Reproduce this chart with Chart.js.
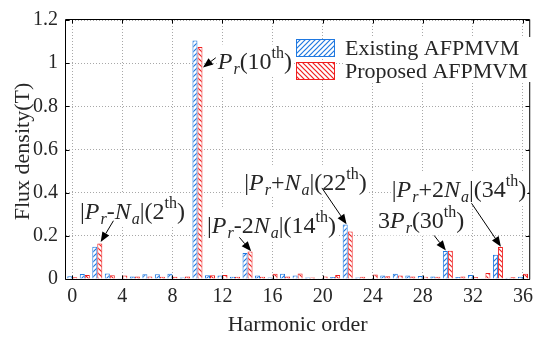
<!DOCTYPE html>
<html><head><meta charset="utf-8">
<script src="https://cdn.jsdelivr.net/npm/chart.js@4.4.0/dist/chart.umd.min.js"></script>
<style>html,body{margin:0;padding:0;background:#fff;}canvas{display:block;}</style>
</head><body>
<canvas id="c" width="539" height="339"></canvas>
<script>
const harmonics = [0,1,2,3,4,5,6,7,8,9,10,11,12,13,14,15,16,17,18,19,20,21,22,23,24,25,26,27,28,29,30,31,32,33,34,35,36];
const existing = [0.013,0.023,0.149,0.026,0.003,0.012,0.022,0.022,0.024,0.007,1.105,0.017,0.016,0.011,0.120,0.016,0.007,0.024,0.016,0.007,0.001,0.009,0.253,0.007,0.004,0.016,0.024,0.016,0.014,0.012,0.130,0.009,0.018,0.003,0.112,0.006,0.010];
const proposed = [0.008,0.018,0.164,0.017,0.016,0.012,0.012,0.011,0.010,0.012,1.075,0.017,0.018,0.011,0.127,0.011,0.024,0.012,0.026,0.007,0.012,0.019,0.220,0.011,0.021,0.013,0.016,0.012,0.011,0.011,0.131,0.012,0.009,0.028,0.148,0.008,0.024];
const xTickLabels = [0,4,8,12,16,20,24,28,32,36];
const yTickLabels = ['0','0.2','0.4','0.6','0.8','1','1.2'];
const seriesNames = ['Existing AFPMVM','Proposed AFPMVM'];
const xTitle = 'Harmonic order';
const yTitle = 'Flux density(T)';

const FONT = "'Liberation Serif', serif";
Chart.defaults.font.family = FONT;
const BLUE = '#1f78e0';
const RED = '#f01e1e';
const TXT = '#262626';

function hatch(color, dir){
  const s = 5;
  const c = document.createElement('canvas'); c.width = s; c.height = s;
  const g = c.getContext('2d');
  g.fillStyle = '#fff'; g.fillRect(0,0,s,s);
  g.strokeStyle = color; g.lineWidth = 1.2;
  g.beginPath();
  if (dir > 0) {
    g.moveTo(0,s); g.lineTo(s,0);
    g.moveTo(-1,1); g.lineTo(1,-1);
    g.moveTo(s-1,s+1); g.lineTo(s+1,s-1);
  } else {
    g.moveTo(0,0); g.lineTo(s,s);
    g.moveTo(s-1,-1); g.lineTo(s+1,1);
    g.moveTo(-1,s-1); g.lineTo(1,s+1);
  }
  g.stroke();
  return document.getElementById('c').getContext('2d').createPattern(c,'repeat');
}
const blueHatch = hatch(BLUE, 1);
const redHatch = hatch(RED, -1);

const I = t => ({t, it:true});
const N = t => ({t});
const SUB = t => ({t, it:true, pos:'sub'});
const SUP = t => ({t, pos:'sup'});
const annotations = [
  {text:[I('P'),SUB('r'),N('(10'),SUP('th'),N(')')], at:[11.62,0.971], from:[11.46,1.025], to:[10.44,0.980]},
  {text:[N('|'),I('P'),SUB('r'),N('-'),I('N'),SUB('a'),N('|(2'),SUP('th'),N(')')], at:[0.62,0.279], from:[3.29,0.270], to:[2.27,0.171]},
  {text:[N('|'),I('P'),SUB('r'),N('-2'),I('N'),SUB('a'),N('|(14'),SUP('th'),N(')')], at:[10.76,0.211], from:[13.35,0.193], to:[14.29,0.128]},
  {text:[N('|'),I('P'),SUB('r'),N('+'),I('N'),SUB('a'),N('|(22'),SUP('th'),N(')')], at:[13.74,0.413], from:[19.94,0.422], to:[21.91,0.254]},
  {text:[N('3'),I('P'),SUB('r'),N('(30'),SUP('th'),N(')')], at:[24.42,0.234], from:[28.9,0.202], to:[29.84,0.132]},
  {text:[N('|'),I('P'),SUB('r'),N('+2'),I('N'),SUB('a'),N('|(34'),SUP('th'),N(')')], at:[25.52,0.378], from:[31.89,0.351], to:[34.24,0.150]}
];

function segFont(s){
  const size = s.pos ? 16 : 24;
  return (s.it ? 'italic ' : '') + size + 'px ' + FONT;
}
function drawRich(ctx, x, y, segs){
  let w = 0;
  const ws = segs.map(s => { ctx.font = segFont(s); const m = ctx.measureText(s.t).width + (s.it && !s.pos ? 1 : 0); w += m; return m; });
  ctx.fillStyle = '#fff';
  ctx.fillRect(x-1, y-25, w+2, 32);
  let cx = x;
  segs.forEach((s,k) => {
    ctx.font = segFont(s);
    ctx.fillStyle = TXT;
    ctx.textAlign = 'left';
    ctx.textBaseline = 'alphabetic';
    const dy = s.pos === 'sub' ? 5 : (s.pos === 'sup' ? -11 : 0);
    ctx.fillText(s.t, cx, y + dy);
    cx += ws[k];
  });
}
function arrow(ctx, x1, y1, x2, y2){
  const a = Math.atan2(y2-y1, x2-x1);
  const L = 10, H = 4;
  const bx = x2 - L*Math.cos(a), by = y2 - L*Math.sin(a);
  ctx.strokeStyle = '#000'; ctx.lineWidth = 1;
  ctx.beginPath(); ctx.moveTo(x1,y1); ctx.lineTo(bx,by); ctx.stroke();
  ctx.fillStyle = '#000';
  ctx.beginPath();
  ctx.moveTo(x2,y2);
  ctx.lineTo(bx + H*Math.sin(a), by - H*Math.cos(a));
  ctx.lineTo(bx - H*Math.sin(a), by + H*Math.cos(a));
  ctx.closePath(); ctx.fill();
}

const decor = {
  id:'decor',
  afterDatasetsDraw(chart){
    const {ctx, chartArea:a, scales:{x, y}} = chart;
    ctx.save();
    ctx.strokeStyle = '#000'; ctx.lineWidth = 1;
    const L = a.left - 0.5, R = a.right + 0.5, T = a.top - 0.5, B = a.bottom + 0.5;
    ctx.beginPath();
    ctx.moveTo(L,T); ctx.lineTo(R,T); ctx.lineTo(R,B); ctx.lineTo(L,B); ctx.closePath();
    ctx.stroke();
    ctx.beginPath();
    xTickLabels.forEach(h => {
      const px = Math.round(x.getPixelForValue(harmonics.indexOf(h))) + 0.5;
      ctx.moveTo(px,B); ctx.lineTo(px,B-4);
      ctx.moveTo(px,T); ctx.lineTo(px,T+4);
    });
    yTickLabels.forEach(t => {
      const py = Math.round(y.getPixelForValue(parseFloat(t))) + 0.5;
      ctx.moveTo(L,py); ctx.lineTo(L+4,py);
      ctx.moveTo(R,py); ctx.lineTo(R-4,py);
    });
    ctx.stroke();
    ctx.restore();
  },
  afterDraw(chart){
    const {ctx, chartArea:a, scales:{x, y}} = chart;
    ctx.save();
    ctx.fillStyle = TXT;
    ctx.font = '22px ' + FONT;
    ctx.textAlign = 'center'; ctx.textBaseline = 'alphabetic';
    ctx.fillText(xTitle, (a.left + a.right)/2, 331);
    ctx.save();
    ctx.translate(29, (a.top + a.bottom)/2 + 2);
    ctx.rotate(-Math.PI/2);
    ctx.fillText(yTitle, 0, 0);
    ctx.restore();
    const P = (h,v) => [x.getPixelForValue(h), y.getPixelForValue(v)];
    annotations.forEach(an => {
      const [fx,fy] = P(an.from[0], an.from[1]);
      const [tx,ty] = P(an.to[0], an.to[1]);
      const [ax,ay] = P(an.at[0], an.at[1]);
      drawRich(ctx, ax, ay, an.text);
      arrow(ctx, fx, fy, tx, ty);
    });
    const fills = [blueHatch, redHatch], cols = [BLUE, RED];
    ctx.fillStyle = '#fff';
    ctx.fillRect(343, 37, 188, 45);
    seriesNames.forEach((nm,k) => {
      const top = 39 + k*23;
      ctx.fillStyle = fills[k];
      ctx.fillRect(296, top, 39, 18);
      ctx.strokeStyle = cols[k]; ctx.lineWidth = 1;
      ctx.strokeRect(296.5, top+0.5, 38, 17);
      ctx.fillStyle = TXT;
      ctx.font = '22px ' + FONT;
      ctx.textAlign = 'left'; ctx.textBaseline = 'middle';
      ctx.fillText(nm, 345, top + 10);
    });
    ctx.restore();
  }
};

const gridCol = '#a8a8a8';
new Chart(document.getElementById('c'), {
  type:'bar',
  data:{
    labels: harmonics.map(String),
    datasets:[
      {label:seriesNames[0], data:existing, backgroundColor:blueHatch, borderColor:BLUE, borderWidth:1, categoryPercentage:0.8, barPercentage:1},
      {label:seriesNames[1], data:proposed, backgroundColor:redHatch, borderColor:RED, borderWidth:1, categoryPercentage:0.8, barPercentage:1}
    ]
  },
  options:{
    responsive:false, animation:false, devicePixelRatio:1,
    layout:{padding:{top:12, right:2, left:0, bottom:0}},
    plugins:{legend:{display:false}, tooltip:{enabled:false}},
    scales:{
      x:{
        offset:true,
        grid:{offset:false, drawTicks:false, lineWidth:1,
          color: c => (xTickLabels.includes(harmonics[c.index]) ? gridCol : 'rgba(0,0,0,0)')},
        border:{display:false, dash:[1,2]},
        ticks:{autoSkip:false, maxRotation:0, minRotation:0, padding:6, color:TXT,
          font:{family:FONT, size:20},
          callback:(v,i) => (xTickLabels.includes(harmonics[i]) ? String(harmonics[i]) : '')},
        afterFit: s => { s.height = 60; }
      },
      y:{
        min:0, max:1.2,
        grid:{drawTicks:false, lineWidth:1, color:gridCol},
        border:{display:false, dash:[1,2]},
        ticks:{stepSize:0.2, padding:8, color:TXT, font:{family:FONT, size:20},
          callback:(v,i) => yTickLabels[i]},
        afterFit: s => { s.height; s.width = 66; }
      }
    }
  },
  plugins:[decor]
});
</script>
</body></html>
